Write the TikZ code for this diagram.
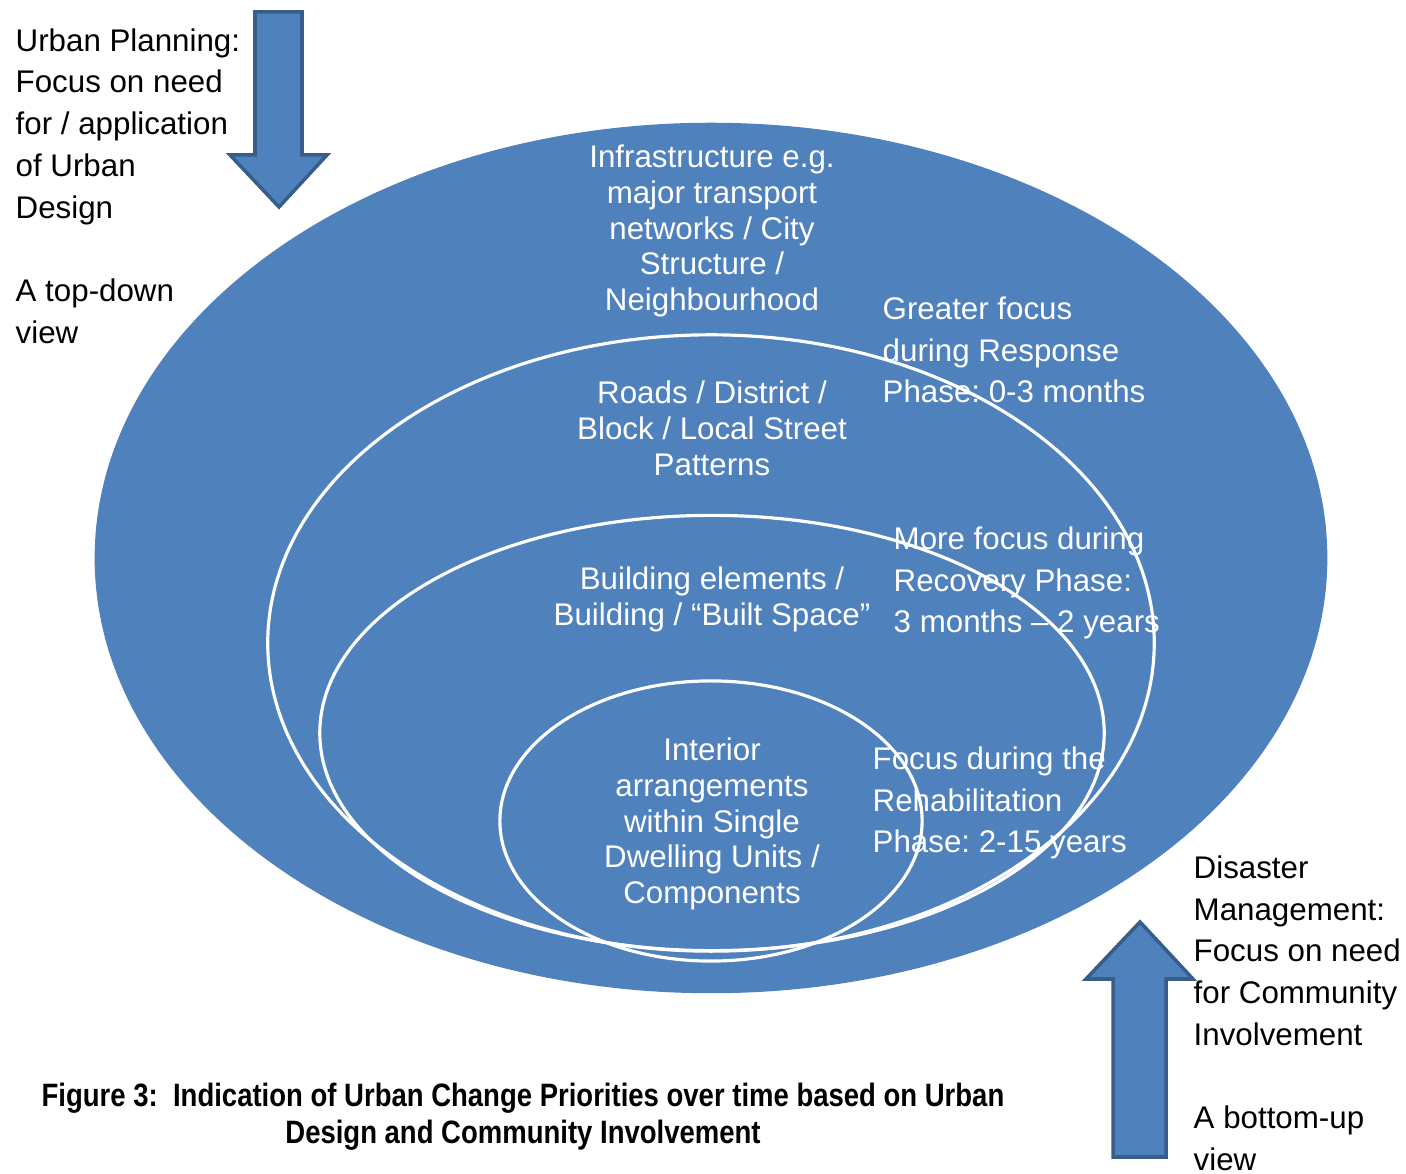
\documentclass[tikz,border=0pt]{standalone}
\usepackage{fontspec}
\setmainfont{Liberation Sans}
\newfontfamily\capfont[FakeStretch=0.85]{Liberation Sans}
\usepackage{tikz}
\frenchspacing

\definecolor{ringblue}{HTML}{4F81BD}
\definecolor{edgeblue}{HTML}{385D8A}

\tikzset{
  ring/.style={draw=white,line width=0.9pt},
  bigarrow/.style={fill=ringblue,draw=edgeblue,line width=1pt,line join=miter},
  outertext/.style={inner sep=0pt,align=left,font=\fontsize{8.9}{11.85}\selectfont},
  innertext/.style={inner sep=0pt,align=center,text=white,font=\fontsize{8.9}{10.2}\selectfont},
  phasetext/.style={inner sep=0pt,align=left,text=white,font=\fontsize{8.9}{11.8}\selectfont},
}

\begin{document}
\begin{tikzpicture}[x=0.01cm,y=-0.01cm]
\useasboundingbox (0,0) rectangle (1406,1174);

% the four rings
\fill [ringblue] (711,558) ellipse [x radius=6.16cm, y radius=4.35cm];
\draw [ring] (711,643) ellipse [x radius=4.43cm, y radius=3.08cm];
\draw [ring] (712,733) ellipse [x radius=3.92cm, y radius=2.175cm];
\draw [ring] (711,821) ellipse [x radius=2.11cm, y radius=1.40cm];

% block arrows
\draw [bigarrow] (255,12) -- (302,12) -- (302,155) -- (327,155) -- (279,207) -- (230,155) -- (255,155) -- cycle;
\draw [bigarrow] (1113,1157) -- (1166,1157) -- (1166,979) -- (1193,979) -- (1140,922) -- (1086,979) -- (1113,979) -- cycle;

\node [outertext,anchor=west] (topdown) at (15,186) {Urban Planning:\\Focus on need\\for / application\\of Urban\\Design\\[11.85pt]A top-down\\view};
\node [outertext,anchor=west] (bottomup) at (1193,1013) {Disaster\\Management:\\Focus on need\\for Community\\Involvement\\[11.85pt]A bottom-up\\view};

\node [innertext] (infra) at (712,231) {Infrastructure e.g.\\major transport\\networks / City\\Structure /\\Neighbourhood};
\node [innertext] (roads) at (712,428) {Roads / District /\\Block / Local Street\\Patterns};
\node [innertext] (build) at (712,599) {Building elements /\\Building / ``Built Space''};
\node [innertext] (interior) at (712,824) {Interior\\arrangements\\within Single\\Dwelling Units /\\Components};

\node [phasetext,anchor=west] (response) at (882,350) {Greater focus\\during Response\\Phase: 0-3 months};
\node [phasetext,anchor=west] (recovery) at (893,583) {More focus during\\Recovery Phase:\\3 months -- 2 years};
\node [phasetext,anchor=west] (rehab) at (872,803) {Focus during the\\Rehabilitation\\Phase: 2-15 years};

\node [inner sep=0pt,align=center,font=\capfont\bfseries\fontsize{9.2}{10.5}\selectfont] (caption) at (523,1117) {Figure 3:\ \ Indication of Urban Change Priorities over time based on Urban\\Design and Community Involvement};
\end{tikzpicture}
\end{document}
